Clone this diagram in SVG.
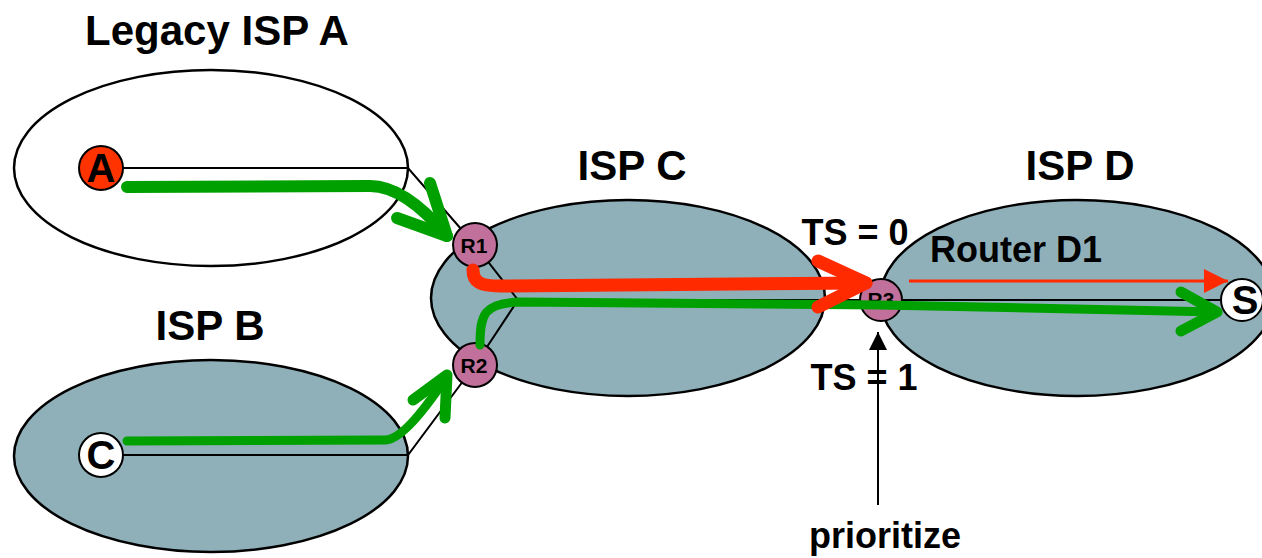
<svg xmlns="http://www.w3.org/2000/svg" width="1262" height="558" viewBox="0 0 1262 558">
<defs>
<style>
.isp{stroke:#000;stroke-width:2.5}
.teal{fill:#8FB0B9}
.ln{stroke:#000;stroke-width:2;fill:none}
.rt{fill:#C0709A;stroke:#000;stroke-width:2}
.ttl{font-family:"Liberation Sans",Arial,sans-serif;font-weight:bold;font-size:42px;fill:#000;text-anchor:middle}
.lbl{font-family:"Liberation Sans",Arial,sans-serif;font-weight:bold;font-size:36px;fill:#000}
.big{font-family:"Liberation Sans",Arial,sans-serif;font-weight:bold;font-size:40px;fill:#000;text-anchor:middle}
.sm{font-family:"Liberation Sans",Arial,sans-serif;font-weight:bold;font-size:21px;fill:#000;text-anchor:middle}
.g{stroke:#00A000;fill:none;stroke-linecap:round;stroke-linejoin:round}
.r{stroke:#FF2A00;fill:none;stroke-linecap:round;stroke-linejoin:round}
</style>
<marker id="redTri" viewBox="0 0 10 10" refX="10" refY="5" markerWidth="8" markerHeight="8" markerUnits="strokeWidth" orient="auto">
<path d="M0,0 L10,5 L0,10 Z" fill="#FF2A00"/>
</marker>
<marker id="blkTri" viewBox="0 0 10 10" refX="10" refY="5" markerWidth="9" markerHeight="9" markerUnits="strokeWidth" orient="auto">
<path d="M0,0 L10,5 L0,10 Z" fill="#000"/>
</marker>
</defs>
<rect width="1262" height="558" fill="#fff"/>

<g id="ispA">
<ellipse cx="211" cy="168" rx="197" ry="98" fill="#fff" class="isp"/>
<text x="217" y="45" class="ttl">Legacy ISP A</text>
</g>
<g id="ispB">
<ellipse cx="211" cy="456" rx="197" ry="96" class="isp teal"/>
<text x="210" y="340" class="ttl">ISP B</text>
</g>
<g id="ispC">
<ellipse cx="628" cy="298" rx="197" ry="98" class="isp teal"/>
<text x="632" y="180" class="ttl">ISP C</text>
</g>
<g id="ispD">
<ellipse cx="1077" cy="298" rx="197" ry="98" class="isp teal"/>
<text x="1080" y="180" class="ttl">ISP D</text>
</g>

<g id="links">
<path class="ln" d="M123,168 L408,168 L475,245"/>
<path class="ln" d="M123,455 L408,455 L475,365"/>
<path class="ln" d="M475,245 L518,300 L475,365"/>
<path class="ln" d="M518,300 L1242,300"/>
</g>

<g id="nodeA">
<circle cx="101" cy="168" r="22" fill="#FF3300" stroke="#000" stroke-width="2"/>
<text x="101" y="182" class="big">A</text>
</g>
<g id="nodeC">
<circle cx="101" cy="455" r="22" fill="#fff" stroke="#000" stroke-width="2"/>
<text x="101" y="469" class="big">C</text>
</g>
<g id="nodeR1">
<circle cx="475" cy="245" r="22" class="rt"/>
<text x="474" y="253" class="sm">R1</text>
</g>
<g id="nodeR2">
<circle cx="475" cy="365" r="22" class="rt"/>
<text x="474" y="373" class="sm">R2</text>
</g>
<g id="nodeR3">
<circle cx="881" cy="300" r="21" class="rt"/>
<text x="881" y="307" class="sm">R3</text>
</g>
<g id="nodeS">
<circle cx="1242" cy="300" r="21" fill="#fff" stroke="#000" stroke-width="2"/>
<text x="1245" y="314" class="big">S</text>
</g>

<g id="connectors">
<path class="g" stroke-width="12" d="M127,187 L370,186 Q405,186 447,236"/>
<path class="g" stroke-width="12" d="M430,183 L447,236 L397,218"/>
<path class="g" stroke-width="9" d="M127,441 L385,440 Q405,440 447,376"/>
<path class="g" stroke-width="11" d="M413,400 L447,375 L445,418"/>
<path class="g" stroke-width="9" d="M480,345 C480,314 484,303 520,302 L880,305 L1217,312"/>
<path class="g" stroke-width="11" d="M1181,292 L1217,312 L1181,331"/>
<path class="r" stroke-width="13" d="M473,270 C473,282 480,286 500,286 L866,283"/>
<path class="r" stroke-width="13" d="M818,261 L866,283 L818,307"/>
<path d="M909,281 L1228,281" stroke="#FF2A00" stroke-width="3" marker-end="url(#redTri)"/>
<path d="M878,505 L878,332" stroke="#000" stroke-width="2" marker-end="url(#blkTri)"/>
</g>

<g id="labels">
<text x="855" y="245" class="lbl" text-anchor="middle">TS = 0</text>
<text x="930" y="262" class="lbl">Router D1</text>
<text x="864" y="390" class="lbl" text-anchor="middle">TS = 1</text>
<text x="885" y="548" class="lbl" text-anchor="middle">prioritize</text>
</g>
</svg>
